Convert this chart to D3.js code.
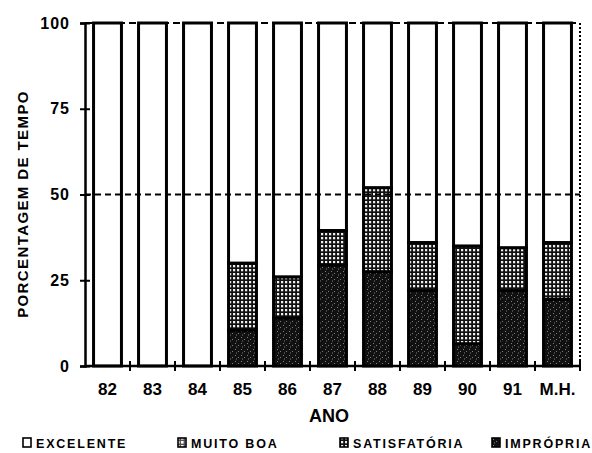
<!DOCTYPE html>
<html><head><meta charset="utf-8">
<script src="https://cdn.jsdelivr.net/npm/d3@7"></script>
<style>body{margin:0;background:#fff}svg{display:block}text{font-family:Arial,"Liberation Sans",sans-serif;font-weight:bold;fill:#000}</style>
</head><body>
<script>
const categories = ["82","83","84","85","86","87","88","89","90","91","M.H."];
const impropria   = [0,0,0,10.5,14,29.5,27.5,22,6.5,22,19.5];
const satisfatoria= [0,0,0,19.5,12,10,24.5,14,28.5,12.5,16.5];
const muitoBoa    = [0,0,0,0,0,0,0,0,0,0,0];
const excelente   = categories.map((c,i)=>100-impropria[i]-satisfatoria[i]-muitoBoa[i]);
const yTicks = [0,25,50,75,100];
const legendLabels = ["EXCELENTE","MUITO BOA","SATISFATÓRIA","IMPRÓPRIA"];

const W=592,H=453, m={l:85,r:12,t:23,b:87};
const svg=d3.select("body").append("svg").attr("width",W).attr("height",H);
const defs=svg.append("defs");
const pg=defs.append("pattern").attr("id","grid").attr("patternUnits","userSpaceOnUse").attr("width",4).attr("height",4);
pg.append("rect").attr("width",4).attr("height",4).attr("fill","#111");
pg.append("rect").attr("x",1).attr("y",1).attr("width",2.2).attr("height",2.3).attr("fill","#eee");
const pl=defs.append("pattern").attr("id","gridLight").attr("patternUnits","userSpaceOnUse").attr("width",4).attr("height",4);
pl.append("rect").attr("width",4).attr("height",4).attr("fill","#555");
pl.append("rect").attr("x",1).attr("y",1).attr("width",2.6).attr("height",2.6).attr("fill","#fff");
const pd=defs.append("pattern").attr("id","dots").attr("patternUnits","userSpaceOnUse").attr("width",6).attr("height",6);
pd.append("rect").attr("width",6).attr("height",6).attr("fill","#111");
[[1,1],[4,3],[2,4.6]].forEach(p=>pd.append("rect").attr("x",p[0]).attr("y",p[1]).attr("width",0.8).attr("height",0.8).attr("fill","#bbb"));

const x=d3.scaleBand().domain(categories).range([m.l,W-m.r]).paddingInner(0.38).paddingOuter(0.19);
const xb=d3.scaleBand().domain(categories).range([m.l,W-m.r]);
const y=d3.scaleLinear().domain([0,100]).range([H-m.b,m.t]);

const series=[
 {key:"impropria",vals:impropria,fill:"url(#dots)"},
 {key:"satisfatoria",vals:satisfatoria,fill:"url(#grid)"},
 {key:"muitoBoa",vals:muitoBoa,fill:"url(#gridLight)"},
 {key:"excelente",vals:excelente,fill:"#fff"}
];
const g=svg.append("g");
categories.forEach((c,i)=>{
  let acc=0;
  series.forEach(s=>{
    const v=s.vals[i];
    if(v>0){
      g.append("rect").attr("x",x(c)).attr("width",x.bandwidth())
       .attr("y",y(acc+v)).attr("height",y(acc)-y(acc+v)).attr("fill",s.fill)
       .attr("stroke","#000").attr("stroke-width",3);
    }
    acc+=v;
  });
});
svg.append("line").attr("x1",m.l).attr("x2",W-m.r).attr("y1",y(100)).attr("y2",y(100)).attr("stroke","#000").attr("stroke-width",2).attr("stroke-dasharray","7,4");
svg.append("line").attr("x1",m.l).attr("x2",W-m.r).attr("y1",y(50)).attr("y2",y(50)).attr("stroke","#000").attr("stroke-width",1.8).attr("stroke-dasharray","6,4");
svg.append("line").attr("x1",W-m.r).attr("x2",W-m.r).attr("y1",y(100)).attr("y2",y(0)).attr("stroke","#000").attr("stroke-width",2).attr("stroke-dasharray","2,2");
const ya=svg.append("g").attr("transform",`translate(${m.l},0)`).call(d3.axisLeft(y).tickValues(yTicks).tickSize(5).tickPadding(10));
ya.select(".domain").attr("stroke-width",2.5);
ya.selectAll(".tick line").attr("x2",5).attr("x1",-5).attr("stroke-width",2);
ya.selectAll("text").style("font-size","16px").style("letter-spacing","1px").style("font-family","Arial, 'Liberation Sans', sans-serif");
svg.append("line").attr("x1",m.l).attr("x2",W-m.r).attr("y1",y(0)).attr("y2",y(0)).attr("stroke","#000").attr("stroke-width",2.5);
categories.forEach(c=>{
  const bx=xb(c)+xb.bandwidth();
  svg.append("line").attr("x1",bx).attr("x2",bx).attr("y1",y(0)-5).attr("y2",y(0)+5).attr("stroke","#000").attr("stroke-width",2);
  svg.append("text").attr("x",x(c)+x.bandwidth()/2).attr("y",y(0)+29).attr("text-anchor","middle").style("font-size","17px").text(c);
});
svg.append("text").attr("x",329).attr("y",422).attr("text-anchor","middle").style("font-size","18px").text("ANO");
svg.append("text").attr("transform","translate(28,204) rotate(-90)").attr("text-anchor","middle").style("font-size","15px").style("letter-spacing","1.4px").text("PORCENTAGEM DE TEMPO");
const lx=[23,178,340,492], fills=["#fff","url(#gridLight)","url(#grid)","url(#dots)"];
legendLabels.forEach((l,i)=>{
  svg.append("rect").attr("x",lx[i]).attr("y",438).attr("width",8).attr("height",9).attr("fill",fills[i]).attr("stroke","#000").attr("stroke-width",1.6);
  svg.append("text").attr("x",lx[i]+13).attr("y",448).style("font-size","12.5px").style("letter-spacing","1.8px").text(l);
});
</script>
</body></html>
